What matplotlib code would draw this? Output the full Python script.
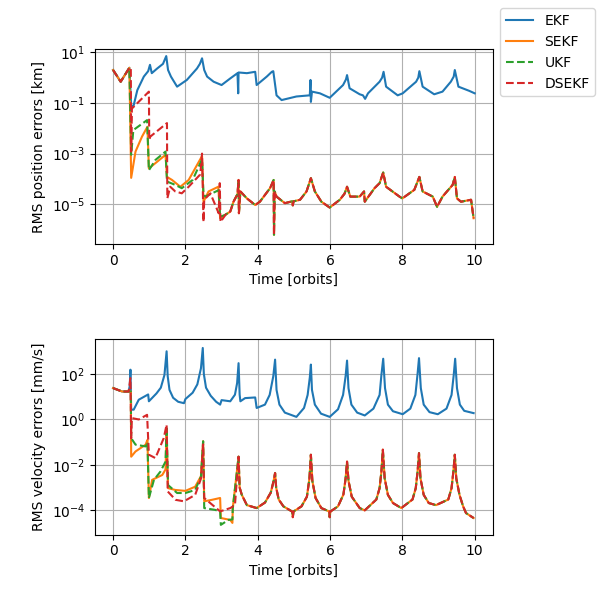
import numpy as np
import matplotlib.pyplot as plt
from matplotlib.ticker import NullLocator


# Data
# -----------------------------
labels = ["EKF", "SEKF", "UKF", "DSEKF"]

# position errors [km]
pos_ekf_t = [0.00, 0.21, 0.45, 0.50, 0.56, 0.67, 0.85, 0.97, 1.02, 1.07, 1.22, 1.38, 1.47,
             1.52, 1.60, 1.77, 2.04, 2.32, 2.40, 2.46, 2.52, 2.60, 2.78, 3.00, 3.24, 3.44,
             3.46, 3.47, 3.70, 3.93, 3.97, 4.25, 4.39, 4.43, 4.52, 4.66, 5.07, 5.44, 5.46,
             5.47, 5.50, 5.72, 5.99, 6.36, 6.44, 6.47, 6.54, 6.82, 6.91, 6.97, 7.05, 7.37,
             7.44, 7.48, 7.55, 7.87, 8.01, 8.38, 8.44, 8.47, 8.56, 8.88, 9.11, 9.34, 9.42,
             9.45, 9.55, 9.85, 10.0]
pos_ekf = [2.0, 0.69, 2.45, 0.079, 0.071, 0.32, 1.1, 1.8, 3.2, 1.5, 2.3, 3.5, 7.1,
           2.0, 1.1, 0.44, 0.81, 2.3, 3.5, 5.8, 2.0, 1.1, 0.69, 0.51, 0.93, 1.5,
           0.24, 1.6, 1.5, 1.7, 0.51, 1.1, 1.7, 1.8, 0.20, 0.13, 0.18, 0.20, 0.81,
           0.11, 0.28, 0.24, 0.16, 0.51, 0.85, 1.26, 0.38, 0.22, 0.20, 0.145, 0.24, 0.69,
           1.0, 1.7, 0.44, 0.20, 0.24, 0.69, 1.0, 1.8, 0.44, 0.22, 0.28, 0.69, 1.1,
           2.0, 0.44, 0.30, 0.24]

pos_sekf_t = [0.00, 0.21, 0.45, 0.50, 0.62, 0.80, 0.95, 0.99, 1.17, 1.45, 1.49, 1.63, 1.86,
              2.09, 2.46, 2.50, 2.64, 2.91, 2.96, 3.10]
pos_sekf = [2.0, 0.69, 2.45, 1.1e-4, 1.2e-3, 4.7e-3, 1.15e-2, 2.6e-4, 4.2e-4, 8.9e-4, 1.2e-4,
            9.1e-5, 4.9e-5, 9.1e-5, 8.0e-4, 1.26e-5, 3.2e-5, 4.9e-5, 2.8e-6, 3.8e-6]

pos_ukf_t = [0.00, 0.21, 0.45, 0.50, 0.56, 0.94, 0.99, 1.17, 1.45, 1.49, 1.72, 1.90, 2.20,
             2.46, 2.50, 2.55, 2.92, 2.96, 3.10]
pos_ukf = [2.0, 0.69, 2.45, 9.0e-4, 8.5e-3, 2.1e-2, 2.2e-4, 5.6e-4, 1.2e-3, 7.9e-5, 5.8e-5,
           4.3e-5, 9.1e-5, 6.0e-4, 2.5e-5, 2.0e-5, 3.6e-5, 3.2e-6, 3.8e-6]

pos_dsekf_t = [0.00, 0.21, 0.45, 0.49, 0.50, 0.52, 0.99, 1.00, 1.03, 1.49, 1.50, 1.58, 1.72,
               1.90, 2.09, 2.41, 2.46, 2.50, 2.52, 2.69, 2.92, 2.95, 2.97, 3.14]
pos_dsekf = [2.0, 0.69, 2.45, 2.45, 1.2e-3, 6.0e-2, 0.28, 3.5e-3, 4.7e-3, 1.6e-2, 1.7e-5,
             4.9e-5, 3.2e-5, 2.7e-5, 4.9e-5, 1.5e-4, 1.0e-3, 2.0e-6, 1.5e-5, 2.7e-5,
             4.4e-6, 6.8e-5, 2.0e-6, 4.4e-6]

# after t ~ 3.2 the three filters overlap
pos_tail_t = [3.24, 3.33, 3.44, 3.47, 3.48, 3.52, 3.70, 3.93, 4.06, 4.34, 4.44, 4.45, 4.47,
              4.52, 4.75, 4.95, 4.97, 4.99, 5.17, 5.35, 5.47, 5.58, 5.76, 5.99, 6.27, 6.40,
              6.47, 6.56, 6.82, 6.94, 6.96, 7.23, 7.37, 7.47, 7.55, 7.92, 8.00, 8.33, 8.47,
              8.56, 8.84, 8.96, 9.11, 9.39, 9.45, 9.51, 9.62, 9.90, 9.97]
pos_tail = [5.1e-6, 1.26e-5, 2.5e-5, 9.1e-5, 4.4e-6, 3.2e-5, 1.7e-5, 9.3e-6, 1.26e-5, 4.3e-5,
            9.1e-5, 6.2e-7, 3.2e-5, 2.0e-5, 1.1e-5, 1.3e-5, 9.0e-6, 1.3e-5, 1.5e-5, 3.2e-5,
            1.07e-4, 3.2e-5, 1.26e-5, 7.4e-6, 1.5e-5, 2.6e-5, 4.9e-5, 2.0e-5, 2.0e-5, 3.2e-5,
            1.26e-5, 4.3e-5, 6.8e-5, 1.8e-4, 4.9e-5, 2.0e-5, 1.7e-5, 3.7e-5, 1.2e-4, 3.2e-5,
            2.0e-5, 7.9e-6, 2.0e-5, 5.8e-5, 1.2e-4, 1.7e-5, 1.26e-5, 1.5e-5, 2.8e-6]

# velocity errors [mm/s]
vel_ekf_t = [0.00, 0.25, 0.43, 0.46, 0.48, 0.50, 0.57, 0.71, 0.88, 0.97, 0.99, 1.20, 1.32,
             1.42, 1.48, 1.51, 1.56, 1.66, 1.80, 1.96, 2.00, 2.20, 2.33, 2.43, 2.48, 2.51,
             2.57, 2.70, 2.85, 2.96, 3.00, 3.24, 3.37, 3.43, 3.47, 3.50, 3.52, 3.65, 3.93,
             3.97, 4.20, 4.33, 4.43, 4.48, 4.52, 4.60, 4.75, 5.07, 5.28, 5.38, 5.44, 5.47,
             5.50, 5.58, 5.75, 5.99, 6.22, 6.36, 6.43, 6.47, 6.51, 6.59, 6.75, 6.96, 7.20,
             7.37, 7.42, 7.47, 7.52, 7.60, 7.74, 8.01, 8.22, 8.36, 8.42, 8.46, 8.51, 8.59,
             8.75, 8.98, 9.22, 9.36, 9.42, 9.46, 9.51, 9.59, 9.71, 9.97]
vel_ekf = [24, 17, 17, 30, 155, 2.7, 2.7, 7.4, 10.5, 12.6, 6.3, 14, 25,
           90, 1000, 80, 20, 9, 6, 5.2, 7.9, 15, 35, 180, 1400, 100,
           25, 11, 6, 4.5, 7.1, 6.3, 12.3, 40, 300, 12.3, 6.3, 8.7, 9.3,
           3.2, 4.5, 12, 80, 430, 20, 4.5, 2.0, 1.3, 3.2, 12, 70, 260,
           20, 4.5, 1.8, 1.3, 2.8, 12, 80, 390, 24, 4.5, 2.0, 1.5, 3.0,
           12, 90, 470, 24, 4.5, 2.3, 1.7, 3.0, 12, 100, 500, 24, 4.5,
           2.1, 1.7, 3.0, 12, 90, 470, 24, 4.5, 2.4, 1.9]

vel_sekf_t = [0.00, 0.25, 0.43, 0.49, 0.50, 0.62, 0.90, 0.95, 0.99, 1.08, 1.36, 1.45, 1.48,
              1.52, 1.72, 2.00, 2.27, 2.43, 2.49, 2.52, 2.73, 2.96, 2.98, 3.24, 3.30, 3.31]
vel_sekf = [24, 17, 17, 17, 0.023, 0.039, 0.078, 0.126, 3.5e-4, 2.2e-3, 3.6e-3, 6.3e-3, 0.3,
            9.5e-4, 7.9e-4, 7.2e-4, 1.1e-3, 3.2e-3, 0.11, 2.5e-4, 2.9e-4, 3.5e-4, 4.6e-5,
            3.8e-5, 2.8e-5, 1.26e-4]

vel_ukf_t = [0.00, 0.25, 0.43, 0.49, 0.50, 0.62, 0.90, 0.95, 0.99, 1.13, 1.31, 1.45, 1.48,
             1.52, 1.77, 2.00, 2.27, 2.43, 2.49, 2.52, 2.82, 2.96, 2.98, 3.19, 3.30, 3.31]
vel_ukf = [24, 17, 17, 17, 0.15, 0.078, 0.065, 0.1, 3.5e-4, 2.2e-3, 5.1e-3, 1.4e-2, 0.5,
           1.3e-3, 5.8e-4, 5.8e-4, 7.9e-4, 3.0e-3, 0.11, 1.26e-4, 1.05e-4, 9.0e-5, 2.3e-5,
           3.8e-5, 4.0e-5, 1.26e-4]

vel_dsekf_t = [0.00, 0.25, 0.43, 0.48, 0.50, 0.52, 0.71, 0.94, 0.99, 1.17, 1.40, 1.48, 1.51,
               1.73, 1.96, 2.27, 2.43, 2.49, 2.52, 2.96, 3.24, 3.37]
vel_dsekf = [24, 17, 17, 66, 0.15, 1.15, 1.0, 1.6, 0.028, 0.02, 0.15, 0.59, 6.8e-4,
             2.9e-4, 2.5e-4, 4.8e-4, 2.5e-3, 0.08, 3.5e-4, 9.0e-5, 1.26e-4, 1.7e-4]

vel_tail_t = [3.47, 3.50, 3.56, 3.70, 3.97, 4.20, 4.36, 4.44, 4.48, 4.51, 4.58, 4.71, 4.95,
              4.97, 4.99, 5.21, 5.36, 5.43, 5.47, 5.51, 5.60, 5.76, 5.98, 5.99, 6.01, 6.22,
              6.37, 6.43, 6.47, 6.51, 6.60, 6.82, 6.96, 7.28, 7.37, 7.42, 7.46, 7.51, 7.60,
              7.74, 7.97, 8.28, 8.37, 8.42, 8.46, 8.50, 8.59, 8.73, 8.93, 9.27, 9.36, 9.41,
              9.45, 9.49, 9.58, 9.68, 9.76, 9.97]
vel_tail = [0.023, 1.0e-3, 4.8e-4, 1.7e-4, 1.26e-4, 2.2e-4, 6.0e-4, 2.0e-3, 4.4e-3, 1.0e-3,
            3.0e-4, 1.5e-4, 8.9e-5, 5.0e-5, 8.9e-5, 1.5e-4, 4.0e-4, 2.5e-3, 0.028, 2.0e-3,
            3.5e-4, 1.26e-4, 8.9e-5, 5.0e-5, 8.9e-5, 1.5e-4, 5.0e-4, 2.5e-3, 0.014, 2.0e-3,
            4.0e-4, 1.26e-4, 1.0e-4, 3.0e-4, 9.5e-4, 5.0e-3, 0.047, 2.6e-3, 4.8e-4,
            2.1e-4, 1.26e-4, 3.0e-4, 9.5e-4, 5.0e-3, 0.033, 2.6e-3, 4.8e-4, 2.1e-4, 1.7e-4,
            3.0e-4, 9.5e-4, 5.0e-3, 0.028, 2.6e-3, 4.8e-4, 1.5e-4, 7.6e-5, 4.6e-5]


# Plot
# -----------------------------
fig = plt.figure(figsize=(6.11, 5.98), dpi=100)
ax1 = fig.add_axes([0.1555, 0.592, 0.651, 0.3256])
ax2 = fig.add_axes([0.1555, 0.1059, 0.651, 0.3268])

styles = ["-", "-", "--", "--"]

pos_series = [(pos_ekf_t, pos_ekf),
              (pos_sekf_t + pos_tail_t, pos_sekf + pos_tail),
              (pos_ukf_t + pos_tail_t, pos_ukf + pos_tail),
              (pos_dsekf_t + pos_tail_t, pos_dsekf + pos_tail)]
vel_series = [(vel_ekf_t, vel_ekf),
              (vel_sekf_t + vel_tail_t, vel_sekf + vel_tail),
              (vel_ukf_t + vel_tail_t, vel_ukf + vel_tail),
              (vel_dsekf_t + vel_tail_t, vel_dsekf + vel_tail)]

for i in range(4):
    ax1.plot(pos_series[i][0], pos_series[i][1], styles[i], color="C%d" % i, label=labels[i])
    ax2.plot(vel_series[i][0], vel_series[i][1], styles[i], color="C%d" % i, label=labels[i])

ax1.set_yscale("log")
ax1.set_ylim(10 ** -6.57, 10 ** 1.12)
ax1.set_yticks([1e1, 1e-1, 1e-3, 1e-5])
ax1.set_ylabel("RMS position errors [km]")

ax2.set_yscale("log")
ax2.set_ylim(10 ** -5.07, 10 ** 3.53)
ax2.set_yticks([1e2, 1e0, 1e-2, 1e-4])
ax2.set_ylabel("RMS velocity errors [mm/s]")

for ax in (ax1, ax2):
    ax.yaxis.set_minor_locator(NullLocator())
    ax.set_xlim(-0.5, 10.5)
    ax.set_xticks([0, 2, 4, 6, 8, 10])
    ax.set_xlabel("Time [orbits]")
    ax.grid(True)

fig.legend(*ax1.get_legend_handles_labels(), loc="upper left",
           bbox_to_anchor=(500 / 611, 1 - 8.3 / 598), borderaxespad=0)

plt.savefig("out.png")
